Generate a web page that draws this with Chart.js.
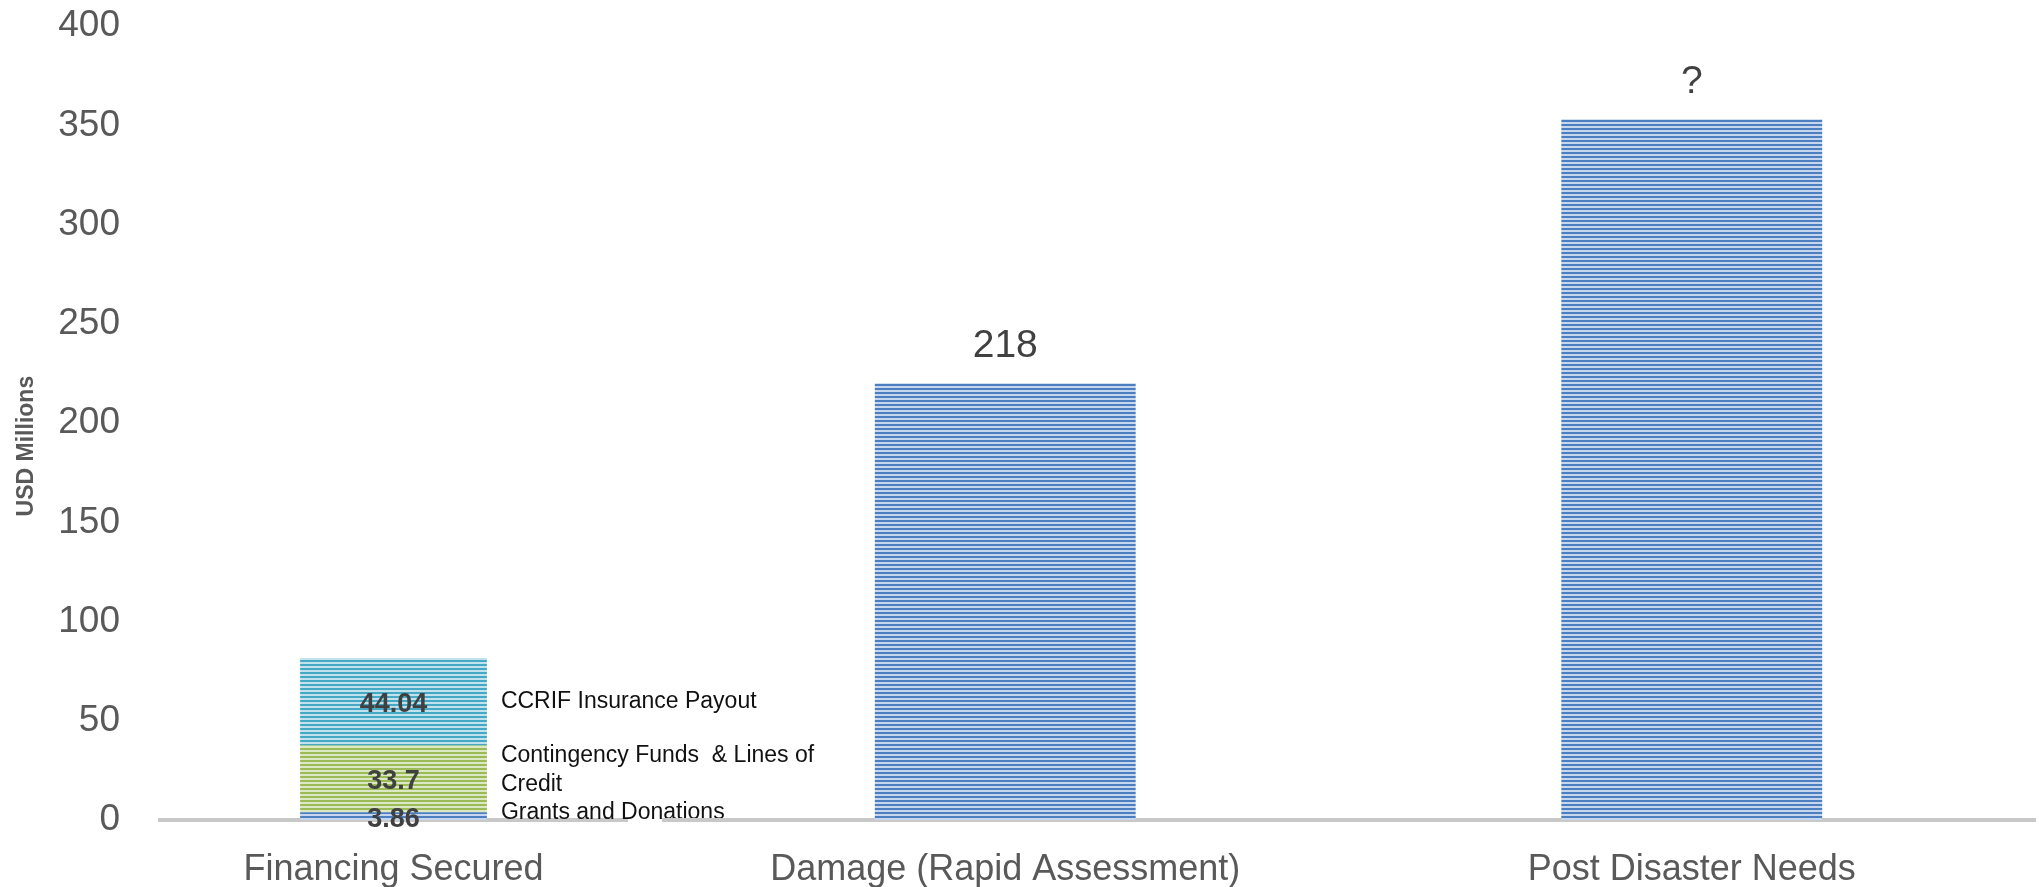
<!DOCTYPE html>
<html>
<head>
<meta charset="utf-8">
<script src="https://cdn.jsdelivr.net/npm/chart.js@4.4.0/dist/chart.umd.min.js"></script>
<style>
  html, body { margin: 0; padding: 0; background: #fff; overflow: hidden; }
  #wrap { position: relative; width: 2039px; height: 887px; overflow: hidden; }
  /* y tick padding pushes the left plot down (22 + 32px), so lift the canvas */
  #fundChart { position: absolute; left: 0; top: -28px; }
  #needChart { position: absolute; left: 662px; top: 0; }
</style>
</head>
<body>
<div id="wrap">
  <canvas id="fundChart" width="900" height="915"></canvas>
  <canvas id="needChart" width="1377" height="887"></canvas>
</div>
<script>
// left panel: stacked financing
const fundCategories = ['Financing Secured'];
const grants = [3.86];
const contingency = [33.7];
const ccrif = [44.04];
const fundSeriesNames = ['Grants and Donations', ['Contingency Funds  & Lines of', 'Credit'], 'CCRIF Insurance Payout'];

// right panel: damage vs needs
const needCategories = ['Damage (Rapid Assessment)', 'Post Disaster Needs'];
const needValues = [220, 353];
const needText = ['218', '?'];

const yTicks = { min: 0, max: 400, step: 50 };

function stripes(dark, light) {
    const c = document.createElement('canvas');
    c.width = 4; c.height = 4;
    const g = c.getContext('2d');
    g.fillStyle = light; g.fillRect(0, 0, 4, 4);
    g.fillStyle = dark; g.fillRect(0, 0, 4, 2);
    return g.createPattern(c, 'repeat');
}

const blueFill = stripes('#4c7fc0', '#c5d6ee');
const greenFill = stripes('#9bbb59', '#dbe8c3');
const cyanFill = stripes('#45a9c5', '#bfe2ec');

const axisBorder = { display: true, color: '#c8c8c8', width: 4 };
const catFont = { family: '"Liberation Sans", sans-serif', size: 36 };

// value + series name beside each segment, plus the y title
const segmentLabels = {
    id: 'segmentLabels',
    afterDatasetsDraw(chart) {
        const ctx = chart.ctx;
        chart.data.datasets.forEach((ds, i) => {
            const bar = chart.getDatasetMeta(i).data[0];
            const mid = (bar.y + bar.base) / 2;
            ctx.save();
            ctx.textBaseline = 'middle';
            ctx.textAlign = 'center';
            ctx.fillStyle = '#404040';
            ctx.font = 'bold 27px "Liberation Sans", sans-serif';
            ctx.fillText(String(ds.data[0]), bar.x, mid + 3);
            ctx.textAlign = 'left';
            ctx.fillStyle = '#111';
            ctx.font = '23px "Liberation Sans", sans-serif';
            const lines = [].concat(ds.sideText);
            lines.forEach((t, k) => {
                ctx.fillText(t, bar.x + bar.width / 2 + 14, mid + ds.sideShift + (k - (lines.length - 1) / 2) * 29);
            });
            ctx.restore();
        });
        const a = chart.chartArea;
        ctx.save();
        ctx.translate(27, (a.top + a.bottom) / 2 + 23);
        ctx.rotate(-Math.PI / 2);
        ctx.textAlign = 'center';
        ctx.textBaseline = 'middle';
        ctx.fillStyle = '#595959';
        ctx.font = 'bold 23px "Liberation Sans", sans-serif';
        ctx.fillText('USD Millions', 0, 0);
        ctx.restore();
    }
};

const topLabels = {
    id: 'topLabels',
    afterDatasetsDraw(chart) {
        const ctx = chart.ctx;
        chart.getDatasetMeta(0).data.forEach((bar, i) => {
            ctx.save();
            ctx.textAlign = 'center';
            ctx.textBaseline = 'middle';
            ctx.fillStyle = '#404040';
            ctx.font = '39px "Liberation Sans", sans-serif';
            ctx.fillText(needText[i], bar.x, bar.y - 37);
            ctx.restore();
        });
    }
};

new Chart(document.getElementById('fundChart'), {
    type: 'bar',
    data: {
        labels: fundCategories,
        datasets: [
            { label: 'Grants and Donations', data: grants, backgroundColor: blueFill, sideText: fundSeriesNames[0], sideShift: -4 },
            { label: 'Contingency Funds & Lines of Credit', data: contingency, backgroundColor: greenFill, sideText: fundSeriesNames[1], sideShift: -9 },
            { label: 'CCRIF Insurance Payout', data: ccrif, backgroundColor: cyanFill, sideText: fundSeriesNames[2], sideShift: 0 }
        ]
    },
    options: {
        responsive: false,
        animation: false,
        categoryPercentage: 1,
        barPercentage: 0.4,
        layout: { padding: { top: 26, right: 273, left: 0, bottom: 0 } },
        plugins: { legend: { display: false }, tooltip: { enabled: false } },
        scales: {
            x: {
                stacked: true,
                grid: { display: false },
                border: axisBorder,
                ticks: { color: '#595959', font: catFont, padding: 20 },
                afterFit(s) { s.height = 67; }
            },
            y: {
                stacked: true,
                min: yTicks.min, max: yTicks.max,
                grid: { display: false },
                border: { display: false },
                ticks: { stepSize: yTicks.step, color: '#595959', padding: 32, font: { family: '"Liberation Sans", sans-serif', size: 37 } },
                afterFit(s) { s.width = 160; }
            }
        }
    },
    plugins: [segmentLabels]
});

new Chart(document.getElementById('needChart'), {
    type: 'bar',
    data: {
        labels: needCategories,
        datasets: [{ data: needValues, backgroundColor: blueFill }]
    },
    options: {
        responsive: false,
        animation: false,
        categoryPercentage: 1,
        barPercentage: 0.38,
        layout: { padding: { top: 26, right: 4, left: 0, bottom: 0 } },
        plugins: { legend: { display: false }, tooltip: { enabled: false } },
        scales: {
            x: {
                grid: { display: false },
                border: axisBorder,
                ticks: { color: '#595959', font: catFont, padding: 20 },
                afterFit(s) { s.height = 67; }
            },
            y: { display: false, min: yTicks.min, max: yTicks.max }
        }
    },
    plugins: [topLabels]
});
</script>
</body>
</html>
